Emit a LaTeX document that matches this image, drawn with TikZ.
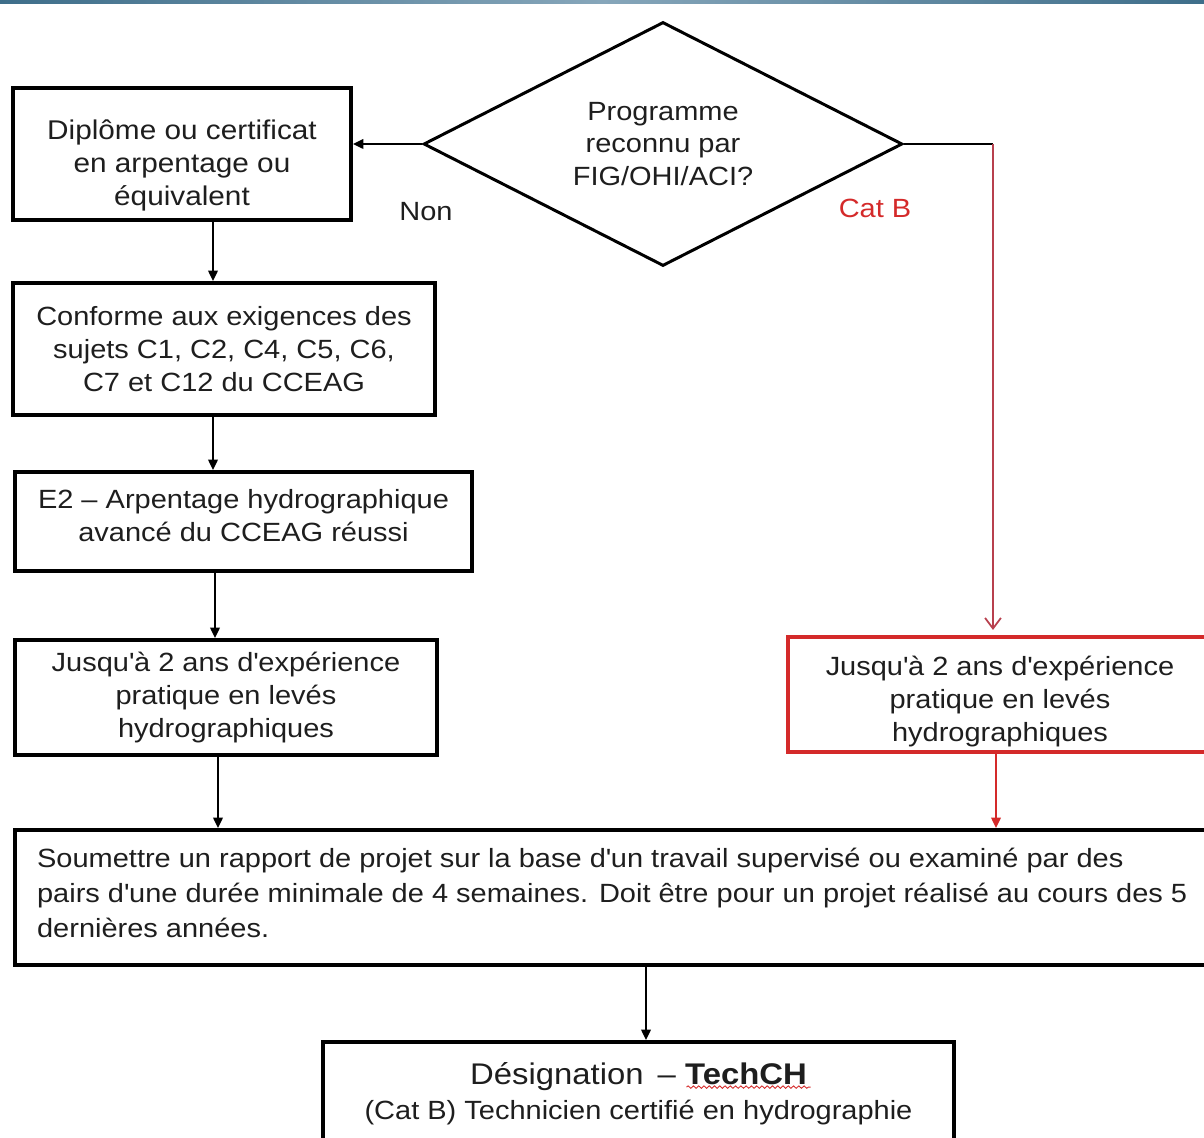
\documentclass[tikz,border=0pt]{standalone}
\usepackage{fontspec}
\setmainfont{Liberation Sans}[FakeStretch=1.1]
\usetikzlibrary{shapes.geometric,arrows.meta,decorations.pathmorphing,calc}
\newcommand\apo{\textquotesingle}
\newcommand\shiftedtext[3]{\raisebox{#1}[0pt][0pt]{\parbox{#2}{#3}}}
\definecolor{txt}{HTML}{1E1E1E}
\definecolor{redln}{HTML}{D42A2A}
\definecolor{redarr}{HTML}{B8404E}
\definecolor{bandA}{HTML}{3E6E8A}
\definecolor{bandB}{HTML}{86A6BA}
\hbadness=10000 \hfuzz=200cm
\begin{document}
\begin{tikzpicture}[x=0.02cm,y=-0.02cm,
  every node/.style={text=txt,font=\fontsize{15}{18.7}\selectfont},
  box/.style={draw=black,line width=2.2pt,rectangle,inner sep=0pt,align=center},
  redbox/.style={box,draw=redln,line width=2pt},
  arr/.style={line width=1pt,-{Triangle[length=6pt,width=5.5pt]}},
  lbl/.style={inner sep=0pt}]
\useasboundingbox (0,0) rectangle (1204,1138);
\clip (0,0) rectangle (1204,1138);
\shade[left color=bandA,right color=bandA,middle color=bandB] (0,0) rectangle (1204,4);
% nodes
\node[diamond,aspect=2,draw=black,line width=1.7pt,minimum width=9.58cm,minimum height=4.88cm,inner sep=0pt,align=center]
  (dia) at (663,144) {Programme\\reconnu par\\FIG/OHI/ACI?};
\node[box,minimum width=6.76cm,minimum height=2.64cm] (b1) at (182,154)
  {\shiftedtext{-10pt}{6.6cm}{\centering\fontsize{15.4}{18.7}\selectfont Diplôme ou certificat\\en arpentage ou\\équivalent}};
\node[box,minimum width=8.44cm,minimum height=2.64cm] (b2) at (224,349)
  {Conforme aux exigences des\\sujets C1, C2, C4, C5, C6,\\C7 et C12 du CCEAG};
\node[box,minimum width=9.14cm,minimum height=1.98cm] (b3) at (243.5,521.5)
  {\shiftedtext{0pt}{9cm}{\centering E2 – Arpentage hydrographique\\avancé du CCEAG réussi}};
\node[box,minimum width=8.44cm,minimum height=2.30cm] (b4) at (226,697.5)
  {Jusqu\apo à 2 ans d\apo expérience\\pratique en levés\\hydrographiques};
\node[redbox,minimum width=8.48cm,minimum height=2.30cm] (rb) at (1000,694.5)
  {\shiftedtext{-7.7pt}{8.3cm}{\centering Jusqu\apo à 2 ans d\apo expérience\\pratique en levés\\hydrographiques}};
\node[box,minimum width=23.94cm,minimum height=2.70cm,font=\fontsize{15}{19.8}\selectfont] (big) at (613.5,897.5)
  {\shiftedtext{-0.9pt}{23.06cm}{\raggedright\mbox{Soumettre un rapport de projet sur la base d\apo un travail supervisé ou examiné par des}\\\mbox{pairs d\apo une durée minimale de 4 semaines. Doit être pour un projet réalisé au cours des 5}\\dernières années.}};
\node[box,minimum width=12.62cm,minimum height=2.16cm] (fin) at (638.5,1096)
  {\shiftedtext{-2.3pt}{12cm}{\centering{\fontsize{17}{21}\selectfont Désignation \,– {\bfseries TechCH}}\\[1pt]
   (Cat B) Technicien certifié en hydrographie}};
% labels
\node[lbl] (non) at (426,212) {Non};
\node[lbl,text=redln] (catb) at (875,208) {Cat B};
% helper x positions
\coordinate (xa) at (213,0);
\coordinate (xb) at (215,0);
\coordinate (xc) at (218,0);
\coordinate (xd) at (993,0);
\coordinate (xr) at (996,0);
\coordinate (xe) at (646,0);
% connectors
\draw[arr] (dia.west) -- (dia.west -| b1.east);
\draw[arr] (b1.south -| xa) -- (b2.north -| xa);
\draw[arr] (b2.south -| xa) -- (b3.north -| xa);
\draw[arr] (b3.south -| xb) -- (b4.north -| xb);
\draw[arr] (b4.south -| xc) -- (big.north -| xc);
\draw[line width=1pt] (dia.east) -- (dia.east -| xd) coordinate (corner);
\draw[redarr,line width=1pt,-{Straight Barb[length=6pt,width=9pt]}] (corner) -- ([yshift=3pt]rb.north -| xd);
\draw[redln,line width=1pt,-{Triangle[length=6pt,width=5.5pt]}] (rb.south -| xr) -- (big.north -| xr);
\draw[arr] (big.south -| xe) -- (fin.north -| xe);
% wavy underline under TechCH
\draw[redln,line width=0.5pt,decorate,decoration={snake,amplitude=0.7pt,segment length=3pt}]
  ($(fin.north)+(48,47)$) -- ($(fin.north)+(172,47)$);
\end{tikzpicture}
\end{document}
